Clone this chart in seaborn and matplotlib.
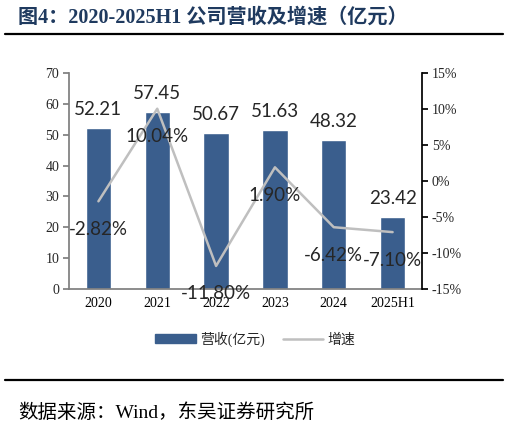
import pandas as pd
import matplotlib.pyplot as plt
import matplotlib.lines as mlines
import matplotlib.patches as mpatches
import seaborn as sns

# Data
years = ['2020', '2021', '2022', '2023', '2024', '2025H1']
revenue = [52.21, 57.45, 50.67, 51.63, 48.32, 23.42]
growth = [-2.82, 10.04, -11.80, 1.90, -6.42, -7.10]

df = pd.DataFrame({'year': years, 'revenue': revenue, 'growth': growth})

sns.set_theme(style="white")
serif = ['Liberation Serif', 'Noto Sans CJK SC']
plt.rcParams['font.family'] = serif

bar_color = '#3A5E8D'
line_color = '#BFBFBF'
label_font = 'Lato'

fig = plt.figure(figsize=(5.1, 4.28), dpi=100)
ax = fig.add_axes([0.1353, 0.3248, 0.6922, 0.5046])

sns.barplot(x='year', y='revenue', data=df, order=years, color=bar_color,
            saturation=1, width=0.43, ax=ax)
ax.set_ylim(0, 70)
ax.set_xlim(-0.5, 5.5)
ax.set_yticks(range(0, 71, 10))
ax.set_xlabel('')
ax.set_ylabel('')
ax.set_xticks([i - 0.5 for i in range(7)], minor=True)
ax.tick_params(axis='x', which='major', length=0, labelsize=10, pad=6, colors='black')
ax.tick_params(axis='x', which='minor', length=4, color='#7F7F7F', direction='out')
ax.tick_params(axis='y', length=4, color='#7F7F7F', direction='out', labelsize=10, pad=3)
for side in ['top', 'right']:
    ax.spines[side].set_visible(False)
ax.spines['left'].set_color('#7F7F7F')
ax.spines['bottom'].set_color('#7F7F7F')

for i, v in enumerate(revenue):
    ax.annotate(f'{v:.2f}', (i, v), xytext=(0, 18), textcoords='offset pixels',
                ha='center', va='center', fontsize=13.5, family=label_font)

ax2 = ax.twinx()
sns.lineplot(x='year', y='growth', data=df, color=line_color, linewidth=1.8,
             sort=False, ax=ax2)
ax2.set_ylim(-15, 15)
ax2.set_yticks(range(-15, 16, 5))
ax2.set_yticklabels([f'{t}%' for t in range(-15, 16, 5)])
ax2.set_ylabel('')
ax2.tick_params(axis='y', length=4, color='black', direction='out', labelsize=10, pad=3)
for side in ['top', 'left', 'bottom']:
    ax2.spines[side].set_visible(False)
ax2.spines['right'].set_color('black')
ax2.set_xlim(-0.5, 5.5)

for i, g in enumerate(growth):
    ax2.annotate(f'{g:.2f}%', (i, g), xytext=(0, -28), textcoords='offset pixels',
                 ha='center', va='center', fontsize=13.5, family=label_font)

# Legend
handles = [mpatches.Patch(color=bar_color, label='营收(亿元)'),
           mlines.Line2D([], [], color=line_color, linewidth=1.8, label='增速')]
fig.legend(handles=handles, loc='center', bbox_to_anchor=(0.5, 0.208), ncol=2,
           frameon=False, fontsize=10, handlelength=2.9, handleheight=0.6,
           handletextpad=0.3, columnspacing=1.3)

# Title and rules
fig.text(0.035, 0.958, '图4：2020-2025H1 公司营收及增速（亿元）', fontsize=14.5,
         fontweight='bold', color='#1F3A5F', va='center', ha='left', family=serif)
fig.add_artist(mlines.Line2D([0.01, 0.986], [0.921, 0.921], color='black', linewidth=1.6))
fig.add_artist(mlines.Line2D([0.01, 0.986], [0.112, 0.112], color='black', linewidth=1.6))
fig.text(0.035, 0.037, '数据来源：Wind，东吴证券研究所', fontsize=14,
         color='black', va='center', ha='left', family=serif)

fig.savefig('out.png', dpi=100)
